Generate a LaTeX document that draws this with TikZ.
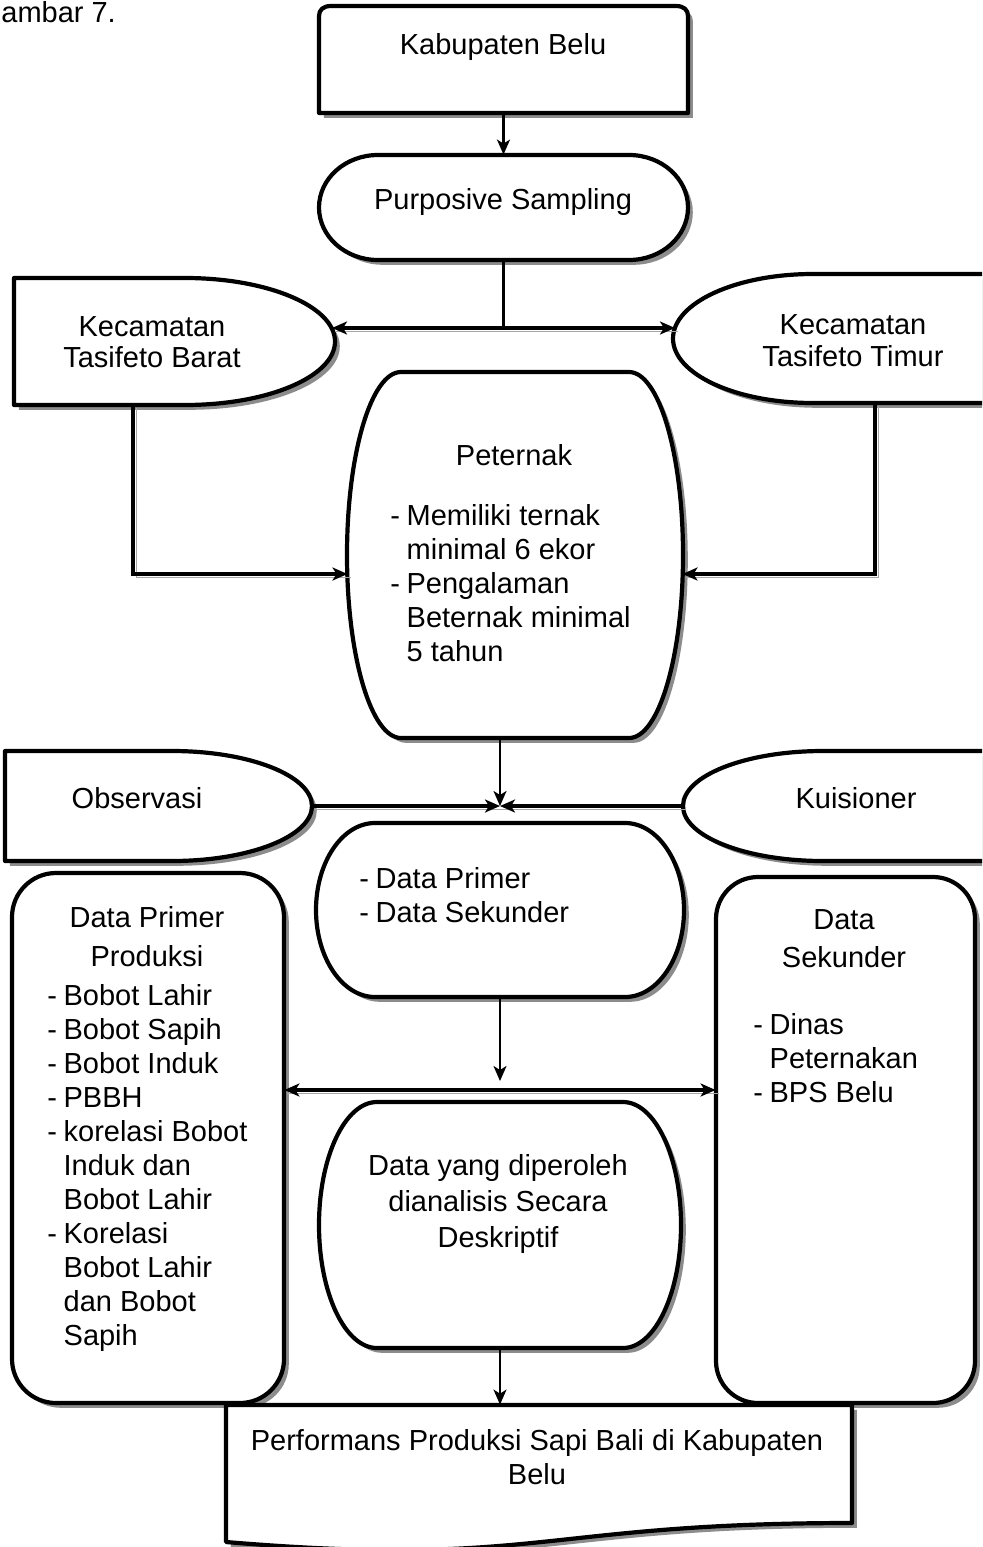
\documentclass[tikz,border=0pt]{standalone}
\usepackage{fontspec}
\setmainfont{Liberation Sans}
\usetikzlibrary{arrows.meta,shadows,fit}

\tikzset{
  shp/.style={draw=black, line width=2.1pt, fill=white, line join=round,
    drop shadow={shadow xshift=2.4pt, shadow yshift=-2.4pt, fill=black!45, opacity=1}},
  hitbox/.style={inner sep=0pt, draw=none},
  txt/.style={inner sep=0pt, font=\fontsize{14.5pt}{17pt}\selectfont, align=center},
  lst/.style={txt, anchor=west, align=left},
  cshadow/.style={preaction={draw=black!35, -, transform canvas={xshift=1.5pt, yshift=-1.5pt}}},
  boldc/.style={line width=2pt, cshadow},
  thinc/.style={line width=1.1pt},
  arr/.style={-{Stealth[length=7.5pt, width=6.5pt, inset=2pt]}},
  darr/.style={{Stealth[length=7.5pt, width=6.5pt, inset=2pt]}-{Stealth[length=7.5pt, width=6.5pt, inset=2pt]}}
}

% terminator: x1 y1 x2 y2 rx
\newcommand\drawTerm[5]{%
  \pgfmathsetmacro\trmA{#1+#5}\pgfmathsetmacro\trmB{#3-#5}%
  \pgfmathsetmacro\trmM{(#2+#4)/2}\pgfmathsetmacro\trmK{0.5523*#5}%
  \pgfmathsetmacro\trmL{0.5523*(#4-#2)/2}%
  \pgfmathsetmacro\trmAk{\trmA-\trmK}\pgfmathsetmacro\trmBk{\trmB+\trmK}%
  \pgfmathsetmacro\trmMu{\trmM-\trmL}\pgfmathsetmacro\trmMd{\trmM+\trmL}%
  \draw[shp] (\trmA,#2) -- (\trmB,#2)
    .. controls (\trmBk,#2) and (#3,\trmMu) .. (#3,\trmM)
    .. controls (#3,\trmMd) and (\trmBk,#4) .. (\trmB,#4) -- (\trmA,#4)
    .. controls (\trmAk,#4) and (#1,\trmMd) .. (#1,\trmM)
    .. controls (#1,\trmMu) and (\trmAk,#2) .. (\trmA,#2) -- cycle;}

% delay, curve on the right: x1 y1 xc y2 rx
\newcommand\drawDelayR[5]{%
  \pgfmathsetmacro\dlM{(#2+#4)/2}\pgfmathsetmacro\dlL{0.5523*(#4-#2)/2}%
  \pgfmathsetmacro\dlX{#3+#5}\pgfmathsetmacro\dlK{#3+0.5523*#5}%
  \pgfmathsetmacro\dlMu{\dlM-\dlL}\pgfmathsetmacro\dlMd{\dlM+\dlL}%
  \draw[shp] (#1,#2) -- (#3,#2)
    .. controls (\dlK,#2) and (\dlX,\dlMu) .. (\dlX,\dlM)
    .. controls (\dlX,\dlMd) and (\dlK,#4) .. (#3,#4) -- (#1,#4) -- cycle;}

% delay, curve on the left: xapex y1 xc y2 xright
\newcommand\drawDelayL[5]{%
  \pgfmathsetmacro\dlM{(#2+#4)/2}\pgfmathsetmacro\dlL{0.5523*(#4-#2)/2}%
  \pgfmathsetmacro\dlK{#3-0.5523*(#3-#1)}%
  \pgfmathsetmacro\dlMu{\dlM-\dlL}\pgfmathsetmacro\dlMd{\dlM+\dlL}%
  \draw[shp] (#5,#2) -- (#3,#2)
    .. controls (\dlK,#2) and (#1,\dlMu) .. (#1,\dlM)
    .. controls (#1,\dlMd) and (\dlK,#4) .. (#3,#4) -- (#5,#4) -- cycle;}

\begin{document}
\begin{tikzpicture}[x=0.5pt,y=-0.5pt]
\useasboundingbox (0,0) rectangle (982,1547);
\clip (0,0) rectangle (982,1547);
\fill[white] (0,0) rectangle (982,1547);

% caption (only its visible part)
\node[txt, anchor=base west] (cap) at (1,23) {ambar 7.};

% ---------- shapes ----------
\draw[shp] (319,113) -- (319,16) .. controls (319,10) and (323,6) .. (331,6)
  -- (676,6) .. controls (684,6) and (688,10) .. (688,16) -- (688,113) -- cycle;
\node[hitbox, fit={(319,6) (688,113)}] (kab) {};

\drawTerm{319}{155}{688}{260}{59}
\node[hitbox, fit={(319,155) (688,260)}] (pur) {};

\drawDelayR{14}{278}{185}{405}{150}
\node[hitbox, fit={(14,278) (335,405)}] (barat) {};

\drawDelayL{673}{274}{813}{403}{1000}
\node[hitbox, fit={(673,274) (982,403)}] (timur) {};

\drawTerm{347}{372}{683}{738}{54}
\node[hitbox, fit={(347,372) (683,738)}] (pet) {};

\drawDelayR{5}{751}{172}{861}{140}
\node[hitbox, fit={(5,751) (312,861)}] (obs) {};

\drawDelayL{683}{751}{823}{861}{1000}
\node[hitbox, fit={(683,751) (982,861)}] (kui) {};

\drawTerm{316}{823}{684}{997}{59}
\node[hitbox, fit={(316,823) (684,997)}] (dp) {};

\draw[shp, rounded corners=22pt] (12,873) rectangle (284,1403);
\node[hitbox, fit={(12,873) (284,1403)}] (dpp) {};

\draw[shp, rounded corners=21pt] (716,877) rectangle (975,1403);
\node[hitbox, fit={(716,877) (975,1403)}] (ds) {};

\drawTerm{319}{1102}{681}{1348}{58}
\node[hitbox, fit={(319,1102) (681,1348)}] (dy) {};

\draw[shp] (226,1405) -- (852,1405) -- (852,1523)
  .. controls (539,1523) and (539,1568) .. (226,1542) -- cycle;
\node[hitbox, fit={(226,1405) (852,1547)}] (perf) {};

% ---------- texts ----------
\node[txt] (kabT) at (503,47) {Kabupaten Belu};
\node[txt] (purT) at (503,202) {Purposive Sampling};
\node[txt, font=\fontsize{14.5pt}{15.5pt}\selectfont] (baratT) at (152,342) {Kecamatan\\Tasifeto Barat};
\node[txt, font=\fontsize{14.5pt}{16pt}\selectfont] (timurT) at (853,341) {Kecamatan\\Tasifeto Timur};
\node[txt] (petT) at (514,455) {Peternak};
\node[lst] (petL) at (390,587) {\begin{tabular}{@{}l@{\hspace{3.3pt}}l@{}}
-&Memiliki ternak\\ &minimal 6 ekor\\ -&Pengalaman\\ &Beternak minimal\\ &5 tahun\end{tabular}};
\node[txt] (obsT) at (137,798) {Observasi};
\node[txt] (kuiT) at (856,798) {Kuisioner};
\node[lst] (dpL) at (359,899) {\begin{tabular}{@{}l@{\hspace{3.3pt}}l@{}}
-&Data Primer\\ -&Data Sekunder\end{tabular}};
\node[txt, font=\fontsize{14.5pt}{19.5pt}\selectfont] (dppH) at (147,937) {Data Primer\\Produksi};
\node[lst] (dppL) at (47,1169) {\begin{tabular}{@{}l@{\hspace{3.3pt}}l@{}}
-&Bobot Lahir\\ -&Bobot Sapih\\ -&Bobot Induk\\ -&PBBH\\ -&korelasi Bobot\\
 &Induk dan\\ &Bobot Lahir\\ -&Korelasi\\ &Bobot Lahir\\ &dan Bobot\\ &Sapih\end{tabular}};
\node[txt, font=\fontsize{14.5pt}{19pt}\selectfont] (dsH) at (844,939) {Data\\Sekunder};
\node[lst] (dsL) at (753,1062) {\begin{tabular}{@{}l@{\hspace{3.3pt}}l@{}}
-&Dinas\\ &Peternakan\\ -&BPS Belu\end{tabular}};
\node[txt, font=\fontsize{14.5pt}{18pt}\selectfont] (dyT) at (498,1204) {Data yang diperoleh\\dianalisis Secara\\Deskriptif};
\node[txt] (perfT) at (537,1457) {Performans Produksi Sapi Bali di Kabupaten\\Belu};

% ---------- connectors ----------
\draw[thinc, arr] (kab.south) -- (pur.north);

\coordinate (j1) at (503.5,328);
\coordinate (bA) at (332,328);
\coordinate (tA) at (675,328);
\draw[thinc] (pur.south) -- (j1);
\draw[boldc, arr] (j1) -- (bA);
\draw[boldc, arr] (j1) -- (tA);

\coordinate (bB) at (133,405);
\coordinate (tB) at (875,403);
\coordinate (pL) at (347.5,574);
\coordinate (pR) at (682.5,574);
\draw[boldc, arr] (bB) |- (pL);
\draw[boldc, arr] (tB) |- (pR);

\coordinate (pB) at (500,738);
\coordinate (j2) at (500,806);
\draw[thinc, arr] (pB) -- (j2);
\draw[boldc, arr] (obs.east) -- (j2);
\draw[boldc, arr] (kui.west) -- (j2);

\coordinate (j3) at (500,1090);
\coordinate (j3a) at (500,1081);
\draw[thinc, arr] (dp.south) -- (j3a);
\draw[boldc, darr] (dpp.east |- j3) -- (ds.west |- j3);

\draw[thinc, arr] (dy.south) -- (dy.south |- perf.north);
\end{tikzpicture}
\end{document}
